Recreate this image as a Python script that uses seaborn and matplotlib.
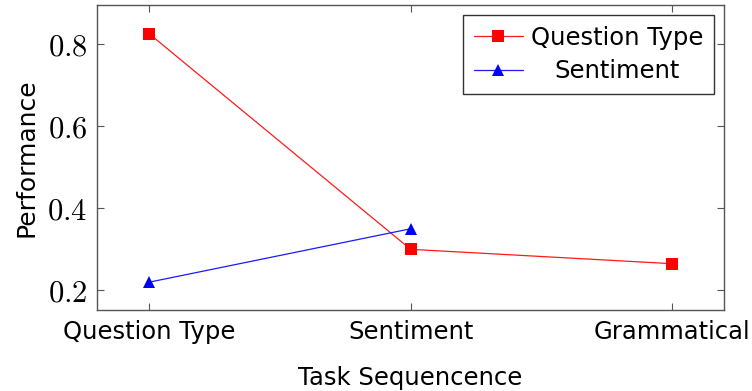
import matplotlib
matplotlib.use("Agg")
import matplotlib.pyplot as plt
import seaborn as sns
import pandas as pd

tasks = ["Question Type", "Sentiment", "Grammatical"]
qt_values = [0.825, 0.30, 0.265]
sent_values = [0.22, 0.35]
series_names = ["Question Type", "Sentiment"]
y_ticks = [0.2, 0.4, 0.6, 0.8]

sns.set_style("ticks", {"text.color": "black", "axes.labelcolor": "black",
                        "xtick.color": "#555555", "ytick.color": "#555555"})
plt.rcParams["font.family"] = ["DejaVu Sans"]
plt.rcParams["mathtext.fontset"] = "cm"

df = pd.DataFrame({
    "task": tasks + tasks[:len(sent_values)],
    "perf": qt_values + sent_values,
    "series": [series_names[0]] * len(qt_values) + [series_names[1]] * len(sent_values),
})
df["pos"] = df["task"].map({t: i for i, t in enumerate(tasks)})

fig = plt.figure(figsize=(7.52, 3.91), dpi=100)
ax = fig.add_axes([0.129, 0.207, 0.834, 0.780])

palette = {series_names[0]: "#ff1a1a", series_names[1]: "#1a1aff"}
markers = {series_names[0]: "s", series_names[1]: "^"}
sns.lineplot(data=df, x="pos", y="perf", hue="series", style="series",
             palette=palette, markers=markers, dashes=False, linewidth=0.9,
             markersize=9, markeredgewidth=0, ax=ax, sort=False)

marker_fill = {"s": "#ff0000", "^": "#0000ff"}
for line in ax.get_lines():
    m = line.get_marker()
    if m in marker_fill:
        line.set_markerfacecolor(marker_fill[m])

ax.set_xlim(-0.2, 2.2)
ax.set_ylim(0.152, 0.895)
ax.set_xticks(range(len(tasks)))
ax.set_xticklabels(tasks, fontsize=17.5, color="black")
ax.set_yticks(y_ticks)
ax.set_yticklabels([f"${v:.1f}$" for v in y_ticks], fontsize=22, color="black")
ax.set_xlabel("Task Sequencence", fontsize=17.5, labelpad=16, color="black")
ax.set_ylabel("Performance", fontsize=18, labelpad=6, color="black")

ax.tick_params(direction="in", length=5, width=0.8, color="#555555",
               top=True, right=True, pad=7)
for s in ax.spines.values():
    s.set_color("#555555")
    s.set_linewidth(1.0)

handles, labels = ax.get_legend_handles_labels()
for h in handles:
    m = h.get_marker()
    if m in marker_fill:
        h.set_markerfacecolor(marker_fill[m])
leg = ax.legend(handles, labels, loc="upper right", fontsize=17.5,
                frameon=True, fancybox=False, edgecolor="#333333",
                framealpha=1, borderaxespad=0.4, handlelength=2.0,
                borderpad=0.45, labelspacing=0.4, handletextpad=0.35)
leg.get_frame().set_linewidth(1.0)
for t in leg.get_texts():
    t.set_color("black")

fig.canvas.draw()
renderer = fig.canvas.get_renderer()
texts = leg.get_texts()
widths = [t.get_window_extent(renderer).width for t in texts]
wmax = max(widths)
for t, w in zip(texts, widths):
    t.set_x((wmax - w) / 2)

fig.savefig("out.png", dpi=100)
